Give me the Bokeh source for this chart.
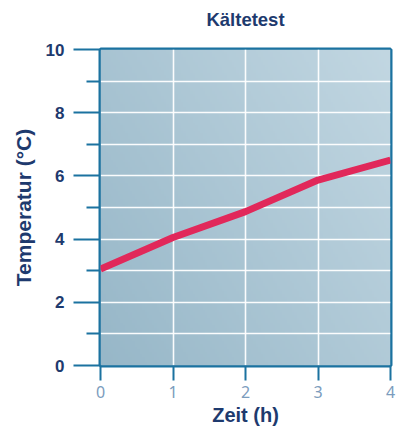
import numpy as np
from bokeh.plotting import figure
from bokeh.models import FixedTicker, Range1d, Title
from bokeh.embed import file_html
from bokeh.resources import INLINE

# data
zeit_h = [0, 1, 2, 3, 4]
temperatur_c = [3.05, 4.05, 4.87, 5.87, 6.5]
x_ticks = [0, 1, 2, 3, 4]
y_major = [0, 2, 4, 6, 8, 10]
y_minor = [1, 3, 5, 7, 9]
title_text = "Kältetest"

NAVY = "#1e3a6e"
BORDER = "#1b72a0"

main_title = Title(text=title_text, align="center", text_font="Liberation Sans",
                   text_font_size="18.5px", text_font_style="bold",
                   text_color=NAVY, standoff=0)

p = figure(frame_width=290, frame_height=316, output_backend="svg",
           toolbar_location=None, x_range=Range1d(0, 4), y_range=Range1d(0, 10),
           min_border_left=100, min_border_right=8, min_border_top=49,
           min_border_bottom=58, background_fill_color="white",
           border_fill_color="white", title=main_title)

# gradient background
n = 120
gx, gy = np.meshgrid(np.linspace(0, 1, n), np.linspace(0, 1, n))
t = (gx * 0.6 + gy * 0.4)
c0 = np.array([0x97, 0xb7, 0xc8])
c1 = np.array([0xc2, 0xd7, 0xe2])
img = np.empty((n, n), dtype=np.uint32)
view = img.view(dtype=np.uint8).reshape((n, n, 4))
for k in range(3):
    view[:, :, k] = (c0[k] + (c1[k] - c0[k]) * t).astype(np.uint8)
view[:, :, 3] = 255
p.image_rgba(image=[img], x=0, y=0, dw=4, dh=10, level="image")

# spacer between title and frame
p.add_layout(Title(text=" ", text_font_size="5px", standoff=12), "above")

p.outline_line_color = BORDER
p.outline_line_width = 4
p.outline_line_alpha = 1

# grids
p.xgrid.ticker = FixedTicker(ticks=x_ticks)
p.ygrid.ticker = FixedTicker(ticks=y_major + y_minor)
for g in (p.xgrid, p.ygrid):
    g.grid_line_color = "white"
    g.grid_line_width = 1.6
    g.grid_line_alpha = 0.95
    g.level = "underlay"

# y axis
ya = p.yaxis[0]
ya.ticker = FixedTicker(ticks=y_major, minor_ticks=y_minor)
ya.major_tick_out = 27
ya.major_tick_in = 0
ya.minor_tick_out = 14
ya.minor_tick_in = 0
ya.major_tick_line_color = BORDER
ya.minor_tick_line_color = BORDER
ya.major_tick_line_width = 2
ya.minor_tick_line_width = 2
ya.axis_line_color = None
ya.major_label_text_font = "Liberation Sans"
ya.major_label_text_font_style = "bold"
ya.major_label_text_font_size = "17px"
ya.major_label_text_color = NAVY
ya.major_label_standoff = 9
ya.axis_label = "Temperatur (°C)"
ya.axis_label_text_font = "Liberation Sans"
ya.axis_label_text_font_style = "bold"
ya.axis_label_text_font_size = "21px"
ya.axis_label_text_color = NAVY
ya.axis_label_standoff = 8

# x axis
xa = p.xaxis[0]
xa.ticker = FixedTicker(ticks=x_ticks)
xa.major_tick_out = 15
xa.major_tick_in = 0
xa.minor_tick_out = 0
xa.major_tick_line_color = BORDER
xa.major_tick_line_width = 2
xa.axis_line_color = None
xa.major_label_text_font = "Noto Sans"
xa.major_label_text_font_size = "16px"
xa.major_label_text_color = "#7b9cbd"
xa.major_label_standoff = 5
xa.axis_label = "Zeit (h)"
xa.axis_label_text_font = "Liberation Sans"
xa.axis_label_text_font_style = "bold"
xa.axis_label_text_font_size = "20px"
xa.axis_label_text_color = NAVY
xa.axis_label_standoff = 3

p.line(zeit_h, temperatur_c, line_color="#e1285a", line_width=7, line_cap="butt",
       line_join="round")

open("out.html", "w").write(file_html(p, INLINE))
